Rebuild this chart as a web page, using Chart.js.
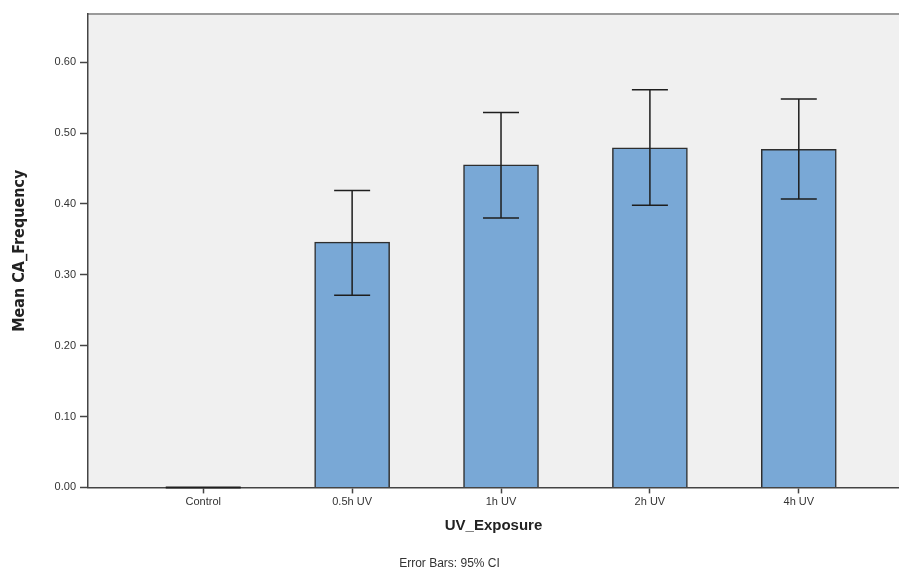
<!DOCTYPE html>
<html>
<head>
<meta charset="utf-8">
<script src="https://cdn.jsdelivr.net/npm/chart.js@4.4.1/dist/chart.umd.min.js"></script>
<style>
    html, body { margin:0; padding:0; background:#fff; }
    #wrap { width:899px; height:573px; }
</style>
</head>
<body>
<div id="wrap"><canvas id="uvChart" width="899" height="573"></canvas></div>
<script>
// values
const categories = ['Control', '0.5h UV', '1h UV', '2h UV', '4h UV'];
const meanValues = [0.000, 0.346, 0.455, 0.479, 0.477];
const ciLower = [0.000, 0.271, 0.380, 0.398, 0.407];
const ciUpper = [0.000, 0.419, 0.529, 0.561, 0.548];
const yTicks = [0.00, 0.10, 0.20, 0.30, 0.40, 0.50, 0.60];

const textColor = '#333333';
const axisColor = '#444444';

//plot background + gray frame on top
const plotBackground = {
    id:'plotBackground',
    beforeDraw(chart){
        const {ctx, chartArea} = chart;
        ctx.save();
        ctx.fillStyle = '#f0f0f0';
        ctx.fillRect(chartArea.left, chartArea.top, chartArea.right - chartArea.left, chartArea.bottom - chartArea.top);
        ctx.strokeStyle = '#9a9a9a';
        ctx.lineWidth = 2;
        ctx.beginPath();
        ctx.moveTo(chartArea.left, chartArea.top);
        ctx.lineTo(chartArea.right, chartArea.top);
        ctx.stroke();
        ctx.restore();
    }
};

//95% CI whiskers (and the flat outline of zero bars)
const errorBars = {
    id:'errorBars',
    afterDatasetsDraw(chart){
        const {ctx} = chart;
        const yScale = chart.scales.y;
        const meta = chart.getDatasetMeta(0);
        ctx.save();
        ctx.strokeStyle = '#1e1e1e';
        ctx.lineWidth = 1.5;
        meta.data.forEach((bar, i) => {
            if(meanValues[i] === 0){
                ctx.beginPath();
                ctx.moveTo(bar.x - bar.width / 2, bar.y);
                ctx.lineTo(bar.x + bar.width / 2, bar.y);
                ctx.lineWidth = 2;
                ctx.stroke();
                ctx.lineWidth = 1.5;
            }
            if(ciUpper[i] === ciLower[i]) return;
            const x = bar.x;
            const yLo = yScale.getPixelForValue(ciLower[i]);
            const yHi = yScale.getPixelForValue(ciUpper[i]);
            const cap = 18;
            ctx.beginPath();
            ctx.moveTo(x, yLo); ctx.lineTo(x, yHi);
            ctx.moveTo(x - cap, yLo); ctx.lineTo(x + cap, yLo);
            ctx.moveTo(x - cap, yHi); ctx.lineTo(x + cap, yHi);
            ctx.stroke();
        });
        ctx.restore();
    }
};

const ctx = document.getElementById('uvChart').getContext('2d');
new Chart(ctx, {
    type:'bar',
    data:{
        datasets:[{
            data: meanValues.map((v, i) => ({x:i, y:v})),
            backgroundColor:'#79a8d6',
            borderColor:'#2e2e2e',
            borderWidth:1.5,
            barThickness:75
        }]
    },
    options:{
        responsive:false,
        animation:false,
        layout:{ padding:{top:14, right:0, left:0, bottom:2} },
        plugins:{
            legend:{display:false},
            tooltip:{enabled:false},
            subtitle:{
                display:true,
                position:'bottom',
                text:'Error Bars: 95% CI',
                color:textColor,
                font:{family:'Liberation Sans, Arial, sans-serif', size:12},
                padding:{top:22, bottom:0}
            }
        },
        scales:{
            x:{
                type:'linear',
                min:-0.774,
                max:4.673,
                offset:false,
                afterBuildTicks(scale){
                    scale.ticks = categories.map((c, i) => ({value:i}));
                },
                ticks:{
                    autoSkip:false,
                    maxRotation:0,
                    color:textColor,
                    font:{family:'Liberation Sans, Arial, sans-serif', size:11},
                    padding:2,
                    callback:(v) => categories[v]
                },
                grid:{
                    offset:false,
                    drawOnChartArea:false,
                    tickLength:6,
                    tickColor:axisColor,
                    tickWidth:1.5
                },
                border:{color:axisColor, width:1.5},
                title:{
                    display:true,
                    text:'UV_Exposure',
                    color:'#222',
                    font:{family:'Liberation Sans, Arial, sans-serif', size:15, weight:'bold'},
                    padding:{top:6, bottom:0}
                }
            },
            y:{
                min:0,
                max:0.668,
                afterBuildTicks(scale){
                    scale.ticks = yTicks.map(v => ({value:v}));
                },
                afterFit(scale){
                    scale.width = 88;
                },
                ticks:{
                    color:textColor,
                    font:{family:'Liberation Sans, Arial, sans-serif', size:11},
                    padding:4,
                    callback:(v) => v.toFixed(2)
                },
                grid:{
                    drawOnChartArea:false,
                    tickLength:8,
                    tickColor:axisColor,
                    tickWidth:1.5
                },
                border:{color:axisColor, width:1.5},
                title:{
                    display:true,
                    text:'Mean CA_Frequency',
                    color:'#222',
                    font:{family:'DejaVu Sans Condensed, Liberation Sans Narrow, Liberation Sans, sans-serif', size:16, weight:'bold'},
                    padding:{top:10, bottom:0}
                }
            }
        }
    },
    plugins:[plotBackground, errorBars]
});
</script>
</body>
</html>
